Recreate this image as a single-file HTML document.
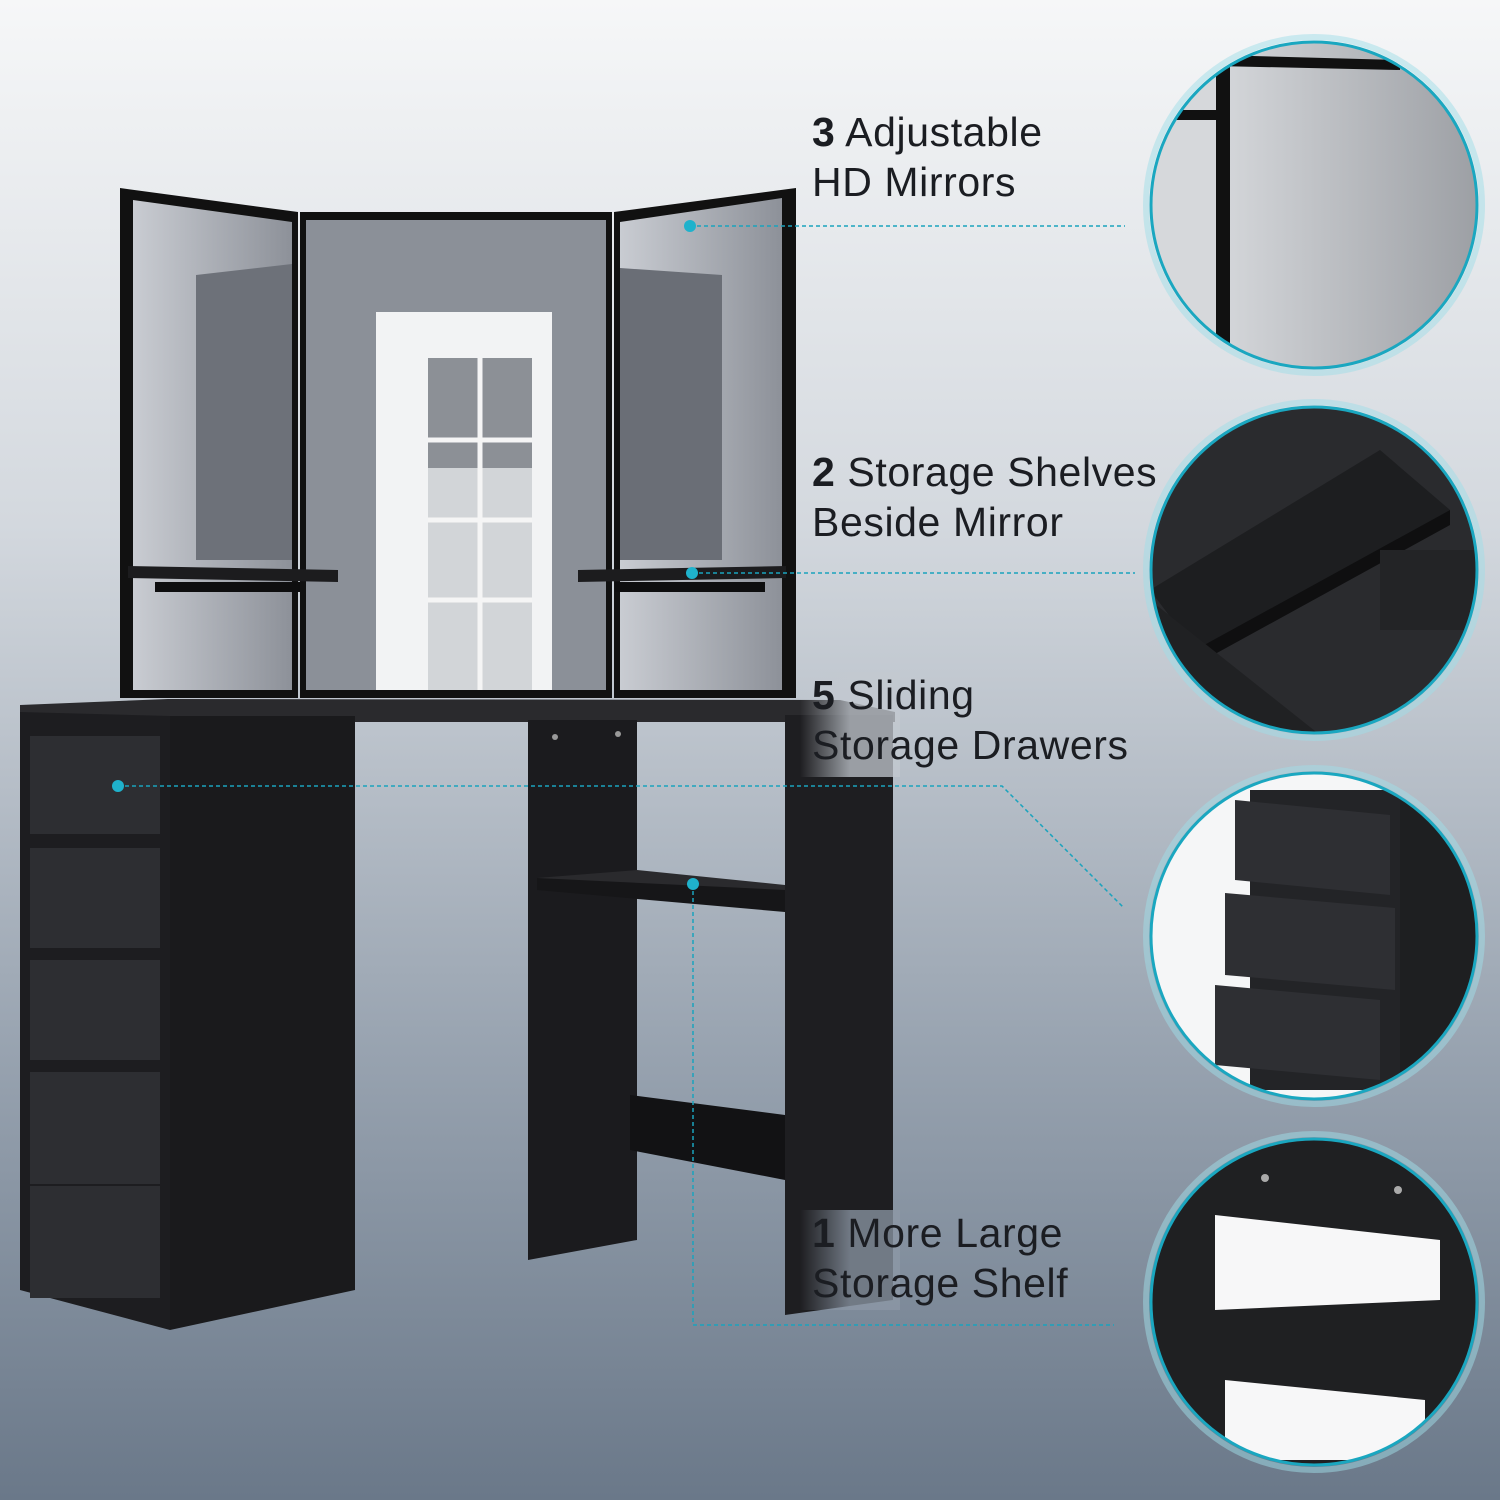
<!DOCTYPE html>
<html><head><meta charset="utf-8">
<style>
html,body{margin:0;padding:0;width:1500px;height:1500px;overflow:hidden}
svg{display:block}
text{font-family:"Liberation Sans","DejaVu Sans",sans-serif;font-size:41px;letter-spacing:0.6px;fill:#1b1d22}
</style></head>
<body>
<svg width="1500" height="1500" viewBox="0 0 1500 1500" xmlns="http://www.w3.org/2000/svg">
<defs>
<linearGradient id="bg" x1="0" y1="0" x2="0" y2="1">
<stop offset="0" stop-color="#f6f7f8"/>
<stop offset="0.35" stop-color="#d3d8de"/>
<stop offset="0.7" stop-color="#98a3b0"/>
<stop offset="1" stop-color="#6a7889"/>
</linearGradient>
<linearGradient id="mir" x1="0" y1="0" x2="1" y2="0">
<stop offset="0" stop-color="#c9ccd2"/><stop offset="1" stop-color="#8d9199"/>
</linearGradient>
<linearGradient id="c1" x1="0" y1="0" x2="1" y2="0">
<stop offset="0" stop-color="#e4e6e9"/><stop offset="1" stop-color="#9c9fa4"/>
</linearGradient>
<linearGradient id="fadeL" x1="0" y1="0" x2="1" y2="0">
<stop offset="0" stop-color="#c3c9d0" stop-opacity="0"/><stop offset="0.5" stop-color="#c3c9d0" stop-opacity="0.75"/>
</linearGradient>
<linearGradient id="fadeL2" x1="0" y1="0" x2="1" y2="0">
<stop offset="0" stop-color="#8d98a6" stop-opacity="0"/><stop offset="0.5" stop-color="#8d98a6" stop-opacity="0.75"/>
</linearGradient>
<clipPath id="k1"><circle cx="1314" cy="205" r="162"/></clipPath>
<clipPath id="k2"><circle cx="1314" cy="570" r="162"/></clipPath>
<clipPath id="k3"><circle cx="1314" cy="936" r="162"/></clipPath>
<clipPath id="k4"><circle cx="1314" cy="1302" r="162"/></clipPath>
</defs>
<rect width="1500" height="1500" fill="url(#bg)"/>

<polygon points="120,188 298,212 298,698 120,698" fill="#111"/>
<polygon points="133,200 292,222 292,690 133,690" fill="url(#mir)"/>
<polygon points="196,275 292,264 292,560 196,560" fill="#6d7179"/>
<rect x="300" y="212" width="312" height="486" fill="#111"/>
<rect x="306" y="220" width="300" height="470" fill="#8b9098"/>
<rect x="376" y="312" width="176" height="378" fill="#f2f3f4"/>
<rect x="428" y="358" width="104" height="332" fill="#d2d5d8"/>
<rect x="428" y="358" width="104" height="110" fill="#8c9096"/>
<path d="M480 358v332M428 440h104M428 520h104M428 600h104" stroke="#f5f5f5" stroke-width="5"/>
<polygon points="614,212 796,188 796,698 614,698" fill="#111"/>
<polygon points="620,222 782,198 782,690 620,690" fill="url(#mir)"/>
<polygon points="620,268 722,275 722,560 620,560" fill="#6a6e76"/>
<polygon points="128,566 338,570 338,582 128,578" fill="#1c1c1e"/>
<rect x="155" y="582" width="145" height="10" fill="#0e0e0f"/>
<polygon points="578,570 786,566 786,578 578,582" fill="#1c1c1e"/>
<rect x="615" y="582" width="150" height="10" fill="#0e0e0f"/>

<polygon points="20,705 168,699 840,700 895,712 895,722 170,722 20,716" fill="#2a2a2d"/>
<polygon points="20,712 170,716 170,1330 20,1290" fill="#1d1d20"/>
<polygon points="170,716 355,716 355,1290 170,1330" fill="#1a1a1c"/>
<g fill="#2d2e32">
<rect x="30" y="736" width="130" height="98"/>
<rect x="30" y="848" width="130" height="100"/>
<rect x="30" y="960" width="130" height="100"/>
<rect x="30" y="1072" width="130" height="112"/>
<rect x="30" y="1186" width="130" height="112"/>
</g>
<polygon points="528,720 637,720 637,1240 528,1260" fill="#1b1b1e"/>
<circle cx="555" cy="737" r="3" fill="#999"/><circle cx="618" cy="734" r="3" fill="#999"/>
<polygon points="537,878 785,888 785,912 537,890" fill="#161618"/>
<polygon points="637,870 785,885 785,890 537,878" fill="#2a2a2d"/>
<polygon points="630,1095 785,1115 785,1180 630,1150" fill="#121214"/>
<polygon points="785,715 893,715 893,1300 785,1315" fill="#1e1e21"/>
<!-- fades behind text over leg -->
<rect x="800" y="672" width="100" height="105" fill="url(#fadeL)"/>
<rect x="800" y="1210" width="100" height="100" fill="url(#fadeL2)"/>

<g stroke="#1aa3bd" stroke-width="1.5" stroke-dasharray="4,3" fill="none">
<path d="M690 226H1125"/>
<path d="M692 573H1135"/>
<path d="M118 786H1002L1124 908"/>
<path d="M693 884V1325H1114"/>
</g>
<g fill="#1fb2cc"><circle cx="690" cy="226" r="6"/><circle cx="692" cy="573" r="6"/><circle cx="118" cy="786" r="6"/><circle cx="693" cy="884" r="6"/></g>

<text x="812" y="146"><tspan font-weight="bold">3</tspan> Adjustable</text>
<text x="812" y="196">HD Mirrors</text>
<text x="812" y="486"><tspan font-weight="bold">2</tspan> Storage Shelves</text>
<text x="812" y="536">Beside Mirror</text>
<text x="812" y="709"><tspan font-weight="bold">5</tspan> Sliding</text>
<text x="812" y="759">Storage Drawers</text>
<text x="812" y="1247"><tspan font-weight="bold">1</tspan> More Large</text>
<text x="812" y="1297">Storage Shelf</text>

<g clip-path="url(#k1)">
<rect x="1150" y="40" width="330" height="330" fill="url(#c1)"/>
<rect x="1150" y="40" width="70" height="330" fill="#d6d8db"/>
<rect x="1216" y="40" width="14" height="330" fill="#111"/>
<rect x="1150" y="110" width="70" height="10" fill="#111"/>
<polygon points="1216,55 1400,60 1400,70 1216,66" fill="#111"/>
</g>
<g clip-path="url(#k2)">
<rect x="1150" y="405" width="330" height="330" fill="#2a2b2e"/>
<polygon points="1150,590 1380,450 1450,510 1195,650" fill="#1d1e20"/>
<polygon points="1195,650 1450,510 1450,525 1195,665" fill="#0f0f10"/>
<rect x="1380" y="550" width="100" height="80" fill="#232426"/>
<polygon points="1150,600 1320,735 1150,735" fill="#202123"/>
</g>
<g clip-path="url(#k3)">
<rect x="1150" y="770" width="330" height="330" fill="#f5f6f7"/>
<rect x="1390" y="770" width="90" height="330" fill="#1e1f21"/>
<polygon points="1250,790 1400,790 1400,1090 1250,1090" fill="#232427"/>
<polygon points="1235,800 1390,815 1390,895 1235,880" fill="#2e2f33"/>
<polygon points="1225,893 1395,908 1395,990 1225,975" fill="#2e2f33"/>
<polygon points="1215,985 1380,1000 1380,1080 1215,1065" fill="#2e2f33"/>
</g>
<g clip-path="url(#k4)">
<rect x="1150" y="1140" width="330" height="330" fill="#1f2022"/>
<polygon points="1215,1215 1440,1240 1440,1300 1215,1310" fill="#f7f7f8"/>
<polygon points="1225,1380 1425,1400 1425,1460 1225,1460" fill="#f7f7f8"/>
<circle cx="1265" cy="1178" r="4" fill="#aaa"/><circle cx="1398" cy="1190" r="4" fill="#aaa"/>
</g>
<g fill="none" stroke="#1aa7c0" stroke-width="3">
<circle cx="1314" cy="205" r="163"/><circle cx="1314" cy="570" r="163"/>
<circle cx="1314" cy="936" r="163"/><circle cx="1314" cy="1302" r="163"/>
</g>
<g fill="none" stroke="#9fdde8" stroke-width="6" opacity="0.5">
<circle cx="1314" cy="205" r="168"/><circle cx="1314" cy="570" r="168"/>
<circle cx="1314" cy="936" r="168"/><circle cx="1314" cy="1302" r="168"/>
</g>
</svg>
</body></html>
